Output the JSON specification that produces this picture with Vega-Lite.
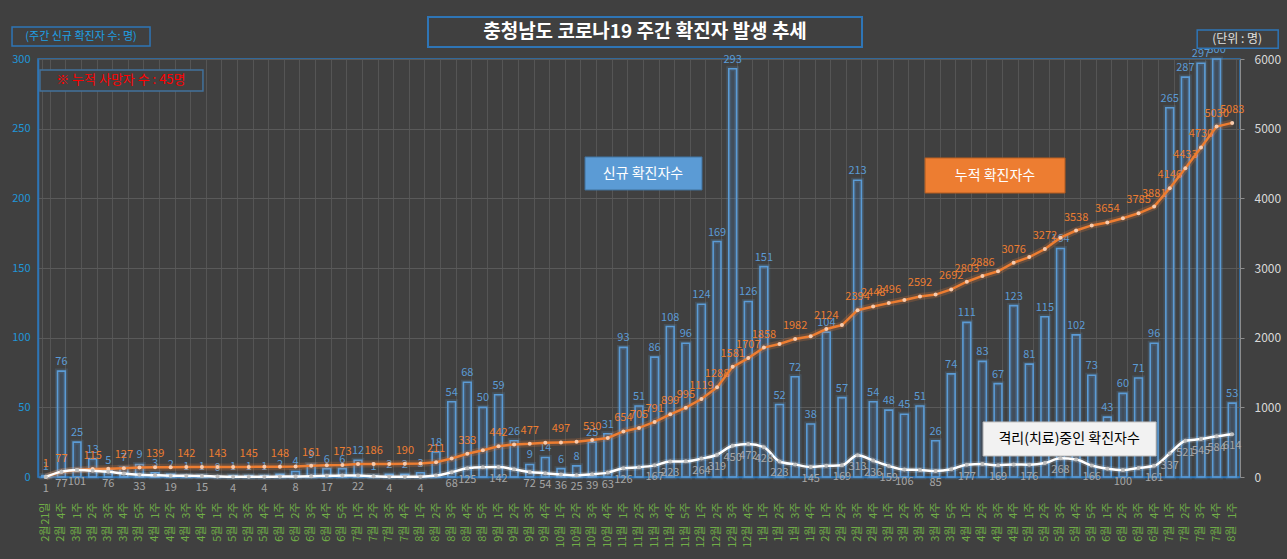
{
"$schema": "https://vega.github.io/schema/vega-lite/v6.json",
"width": 1202, "height": 418,
"autosize": {"type": "none"},
"padding": {"left": 38, "top": 59, "right": 47, "bottom": 82},
"background": "#404040",
"config": {"font": "Noto Sans CJK KR", "view": {"stroke": "#2E75B6", "strokeWidth": 1.5}, "axis": {"labelFont": "Noto Sans CJK KR"}},
"data": {"values": [
{"i":1,"k":"20|2월|21일","new":1,"cum":1,"iso":1},
{"i":2,"k":"20|2월|4주","new":76,"cum":77,"iso":77},
{"i":3,"k":"20|3월|1주","new":25,"cum":102,"iso":101},
{"i":4,"k":"20|3월|2주","new":13,"cum":115,"iso":90},
{"i":5,"k":"20|3월|3주","new":5,"cum":120,"iso":76},
{"i":6,"k":"20|3월|4주","new":7,"cum":127,"iso":50},
{"i":7,"k":"20|3월|5주","new":9,"cum":136,"iso":33},
{"i":8,"k":"20|4월|1주","new":3,"cum":139,"iso":25},
{"i":9,"k":"20|4월|2주","new":2,"cum":141,"iso":19},
{"i":10,"k":"20|4월|3주","new":1,"cum":142,"iso":17},
{"i":11,"k":"20|4월|4주","new":1,"cum":143,"iso":15},
{"i":12,"k":"20|5월|1주","new":0,"cum":143,"iso":8},
{"i":13,"k":"20|5월|2주","new":1,"cum":144,"iso":4},
{"i":14,"k":"20|5월|3주","new":1,"cum":145,"iso":4},
{"i":15,"k":"20|5월|4주","new":1,"cum":146,"iso":4},
{"i":16,"k":"20|6월|1주","new":2,"cum":148,"iso":6},
{"i":17,"k":"20|6월|2주","new":4,"cum":152,"iso":8},
{"i":18,"k":"20|6월|3주","new":9,"cum":161,"iso":12},
{"i":19,"k":"20|6월|4주","new":6,"cum":167,"iso":17},
{"i":20,"k":"20|6월|5주","new":6,"cum":173,"iso":20},
{"i":21,"k":"20|7월|1주","new":12,"cum":185,"iso":22},
{"i":22,"k":"20|7월|2주","new":1,"cum":186,"iso":10},
{"i":23,"k":"20|7월|3주","new":2,"cum":188,"iso":4},
{"i":24,"k":"20|7월|4주","new":2,"cum":190,"iso":4},
{"i":25,"k":"20|8월|1주","new":3,"cum":193,"iso":4},
{"i":26,"k":"20|8월|2주","new":18,"cum":211,"iso":20},
{"i":27,"k":"20|8월|3주","new":54,"cum":265,"iso":68},
{"i":28,"k":"20|8월|4주","new":68,"cum":333,"iso":125},
{"i":29,"k":"20|8월|5주","new":50,"cum":383,"iso":140},
{"i":30,"k":"20|9월|1주","new":59,"cum":442,"iso":142},
{"i":31,"k":"20|9월|2주","new":26,"cum":468,"iso":110},
{"i":32,"k":"20|9월|3주","new":9,"cum":477,"iso":72},
{"i":33,"k":"20|9월|4주","new":14,"cum":491,"iso":54},
{"i":34,"k":"20|10월|1주","new":6,"cum":497,"iso":36},
{"i":35,"k":"20|10월|2주","new":8,"cum":505,"iso":25},
{"i":36,"k":"20|10월|3주","new":25,"cum":530,"iso":39},
{"i":37,"k":"20|10월|4주","new":31,"cum":561,"iso":63},
{"i":38,"k":"20|11월|1주","new":93,"cum":654,"iso":126},
{"i":39,"k":"20|11월|2주","new":51,"cum":705,"iso":140},
{"i":40,"k":"20|11월|3주","new":86,"cum":791,"iso":167},
{"i":41,"k":"20|11월|4주","new":108,"cum":899,"iso":223},
{"i":42,"k":"20|11월|5주","new":96,"cum":995,"iso":225},
{"i":43,"k":"20|12월|1주","new":124,"cum":1119,"iso":264},
{"i":44,"k":"20|12월|2주","new":169,"cum":1288,"iso":319},
{"i":45,"k":"20|12월|3주","new":293,"cum":1581,"iso":450},
{"i":46,"k":"20|12월|4주","new":126,"cum":1707,"iso":472},
{"i":47,"k":"21|1월|1주","new":151,"cum":1858,"iso":428},
{"i":48,"k":"21|1월|2주","new":52,"cum":1910,"iso":223},
{"i":49,"k":"21|1월|3주","new":72,"cum":1982,"iso":180},
{"i":50,"k":"21|1월|4주","new":38,"cum":2020,"iso":145},
{"i":51,"k":"21|2월|1주","new":104,"cum":2124,"iso":160},
{"i":52,"k":"21|2월|2주","new":57,"cum":2181,"iso":169},
{"i":53,"k":"21|2월|3주","new":213,"cum":2394,"iso":313},
{"i":54,"k":"21|2월|4주","new":54,"cum":2448,"iso":236},
{"i":55,"k":"21|3월|1주","new":48,"cum":2496,"iso":159},
{"i":56,"k":"21|3월|2주","new":45,"cum":2541,"iso":106},
{"i":57,"k":"21|3월|3주","new":51,"cum":2592,"iso":100},
{"i":58,"k":"21|3월|4주","new":26,"cum":2618,"iso":85},
{"i":59,"k":"21|3월|5주","new":74,"cum":2692,"iso":110},
{"i":60,"k":"21|4월|1주","new":111,"cum":2803,"iso":177},
{"i":61,"k":"21|4월|2주","new":83,"cum":2886,"iso":185},
{"i":62,"k":"21|4월|3주","new":67,"cum":2953,"iso":169},
{"i":63,"k":"21|4월|4주","new":123,"cum":3076,"iso":180},
{"i":64,"k":"21|5월|1주","new":81,"cum":3157,"iso":176},
{"i":65,"k":"21|5월|2주","new":115,"cum":3272,"iso":200},
{"i":66,"k":"21|5월|3주","new":164,"cum":3436,"iso":268},
{"i":67,"k":"21|5월|4주","new":102,"cum":3538,"iso":250},
{"i":68,"k":"21|5월|5주","new":73,"cum":3611,"iso":166},
{"i":69,"k":"21|6월|1주","new":43,"cum":3654,"iso":120},
{"i":70,"k":"21|6월|2주","new":60,"cum":3714,"iso":100},
{"i":71,"k":"21|6월|3주","new":71,"cum":3785,"iso":130},
{"i":72,"k":"21|6월|4주","new":96,"cum":3881,"iso":161},
{"i":73,"k":"21|7월|1주","new":265,"cum":4146,"iso":337},
{"i":74,"k":"21|7월|2주","new":287,"cum":4433,"iso":521},
{"i":75,"k":"21|7월|3주","new":297,"cum":4730,"iso":545},
{"i":76,"k":"21|7월|4주","new":300,"cum":5030,"iso":584},
{"i":77,"k":"21|8월|1주","new":53,"cum":5083,"iso":614}
]},
"encoding": {"x": {"field": "k", "type": "nominal", "sort": null, "axis": null,
  "scale": {"paddingInner": 0.5, "paddingOuter": 0.25, "domain": ["20|2월|21일","20|2월|4주","20|3월|1주","20|3월|2주","20|3월|3주","20|3월|4주","20|3월|5주","20|4월|1주","20|4월|2주","20|4월|3주","20|4월|4주","20|5월|1주","20|5월|2주","20|5월|3주","20|5월|4주","20|6월|1주","20|6월|2주","20|6월|3주","20|6월|4주","20|6월|5주","20|7월|1주","20|7월|2주","20|7월|3주","20|7월|4주","20|8월|1주","20|8월|2주","20|8월|3주","20|8월|4주","20|8월|5주","20|9월|1주","20|9월|2주","20|9월|3주","20|9월|4주","20|10월|1주","20|10월|2주","20|10월|3주","20|10월|4주","20|11월|1주","20|11월|2주","20|11월|3주","20|11월|4주","20|11월|5주","20|12월|1주","20|12월|2주","20|12월|3주","20|12월|4주","21|1월|1주","21|1월|2주","21|1월|3주","21|1월|4주","21|2월|1주","21|2월|2주","21|2월|3주","21|2월|4주","21|3월|1주","21|3월|2주","21|3월|3주","21|3월|4주","21|3월|5주","21|4월|1주","21|4월|2주","21|4월|3주","21|4월|4주","21|5월|1주","21|5월|2주","21|5월|3주","21|5월|4주","21|5월|5주","21|6월|1주","21|6월|2주","21|6월|3주","21|6월|4주","21|7월|1주","21|7월|2주","21|7월|3주","21|7월|4주","21|8월|1주"]}}},
"layer": [
{"mark": {"type": "bar", "fill": "transparent", "stroke": "#5B9BD5", "strokeWidth": 5, "strokeOpacity": 0.18},
 "encoding": {
  "x": {"field": "k", "type": "nominal", "sort": null,
   "scale": {"paddingInner": 0.5, "paddingOuter": 0.25, "domain": ["20|2월|21일","20|2월|4주","20|3월|1주","20|3월|2주","20|3월|3주","20|3월|4주","20|3월|5주","20|4월|1주","20|4월|2주","20|4월|3주","20|4월|4주","20|5월|1주","20|5월|2주","20|5월|3주","20|5월|4주","20|6월|1주","20|6월|2주","20|6월|3주","20|6월|4주","20|6월|5주","20|7월|1주","20|7월|2주","20|7월|3주","20|7월|4주","20|8월|1주","20|8월|2주","20|8월|3주","20|8월|4주","20|8월|5주","20|9월|1주","20|9월|2주","20|9월|3주","20|9월|4주","20|10월|1주","20|10월|2주","20|10월|3주","20|10월|4주","20|11월|1주","20|11월|2주","20|11월|3주","20|11월|4주","20|11월|5주","20|12월|1주","20|12월|2주","20|12월|3주","20|12월|4주","21|1월|1주","21|1월|2주","21|1월|3주","21|1월|4주","21|2월|1주","21|2월|2주","21|2월|3주","21|2월|4주","21|3월|1주","21|3월|2주","21|3월|3주","21|3월|4주","21|3월|5주","21|4월|1주","21|4월|2주","21|4월|3주","21|4월|4주","21|5월|1주","21|5월|2주","21|5월|3주","21|5월|4주","21|5월|5주","21|6월|1주","21|6월|2주","21|6월|3주","21|6월|4주","21|7월|1주","21|7월|2주","21|7월|3주","21|7월|4주","21|8월|1주"]},
   "axis": {"orient": "bottom", "title": null, "labelExpr": "split(datum.value, '|')[1]", "labelAngle": 270, "labelAlign": "right", "labelBaseline": "middle", "labelPadding": 48, "labelColor": "#70AD47", "labelFontSize": 11, "labelOverlap": false, "ticks": false, "domain": false, "grid": false}},
  "y": {"field": "new", "type": "quantitative", "scale": {"domain": [0, 300]}, "axis": null}}},
{"mark": {"type": "bar", "fill": "#4A7DB5", "fillOpacity": 0.22, "stroke": "#5B9BD5", "strokeWidth": 1.6},
 "encoding": {
  "x": {"field": "k", "type": "nominal", "sort": null,
   "scale": {"paddingInner": 0.5, "paddingOuter": 0.25, "domain": ["20|2월|21일","20|2월|4주","20|3월|1주","20|3월|2주","20|3월|3주","20|3월|4주","20|3월|5주","20|4월|1주","20|4월|2주","20|4월|3주","20|4월|4주","20|5월|1주","20|5월|2주","20|5월|3주","20|5월|4주","20|6월|1주","20|6월|2주","20|6월|3주","20|6월|4주","20|6월|5주","20|7월|1주","20|7월|2주","20|7월|3주","20|7월|4주","20|8월|1주","20|8월|2주","20|8월|3주","20|8월|4주","20|8월|5주","20|9월|1주","20|9월|2주","20|9월|3주","20|9월|4주","20|10월|1주","20|10월|2주","20|10월|3주","20|10월|4주","20|11월|1주","20|11월|2주","20|11월|3주","20|11월|4주","20|11월|5주","20|12월|1주","20|12월|2주","20|12월|3주","20|12월|4주","21|1월|1주","21|1월|2주","21|1월|3주","21|1월|4주","21|2월|1주","21|2월|2주","21|2월|3주","21|2월|4주","21|3월|1주","21|3월|2주","21|3월|3주","21|3월|4주","21|3월|5주","21|4월|1주","21|4월|2주","21|4월|3주","21|4월|4주","21|5월|1주","21|5월|2주","21|5월|3주","21|5월|4주","21|5월|5주","21|6월|1주","21|6월|2주","21|6월|3주","21|6월|4주","21|7월|1주","21|7월|2주","21|7월|3주","21|7월|4주","21|8월|1주"]},
   "axis": {"orient": "bottom", "title": null, "labelExpr": "split(datum.value, '|')[2]", "labelAngle": 270, "labelAlign": "right", "labelBaseline": "middle", "labelPadding": 25, "labelColor": "#70AD47", "labelFontSize": 11, "labelOverlap": false, "ticks": false, "domain": true, "domainColor": "#2E75B6", "domainWidth": 1.5, "grid": true, "tickBand": "extent", "gridColor": "#555555", "gridWidth": 1}},
  "y": {"field": "new", "type": "quantitative", "scale": {"domain": [0, 300]},
   "axis": {"orient": "left", "title": null, "values": [0, 50, 100, 150, 200, 250, 300], "labelColor": "#2196D8", "labelFontSize": 11, "labelPadding": 8, "ticks": false, "domain": true, "domainColor": "#2E75B6", "domainWidth": 1.5, "grid": true, "gridColor": "#5A5A5A", "gridWidth": 1}}}},
{"mark": {"type": "text", "color": "#5B9BD5", "fontSize": 11, "baseline": "bottom", "dy": -4},
 "encoding": {"y": {"field": "new", "type": "quantitative", "scale": {"domain": [0, 300]}, "axis": null}, "text": {"field": "new", "type": "quantitative"}}},
{"mark": {"type": "line", "color": "#ED7D31", "strokeWidth": 7, "opacity": 0.22},
 "encoding": {"y": {"field": "cum", "type": "quantitative", "scale": {"domain": [0, 6000]}, "axis": null}}},
{"mark": {"type": "line", "color": "#ED7D31", "strokeWidth": 2.5},
 "encoding": {"y": {"field": "cum", "type": "quantitative", "scale": {"domain": [0, 6000]},
  "axis": {"orient": "right", "title": null, "values": [0, 1000, 2000, 3000, 4000, 5000, 6000], "format": "d", "labelColor": "#D9D9D9", "labelFontSize": 12, "labelPadding": 10, "ticks": true, "tickSize": 4, "tickColor": "#8C8C8C", "domain": true, "domainColor": "#8C8C8C", "grid": false}}}},
{"mark": {"type": "circle", "color": "#F8CBAD", "size": 16, "opacity": 1},
 "encoding": {"y": {"field": "cum", "type": "quantitative", "scale": {"domain": [0, 6000]}, "axis": null}}},
{"transform": [{"filter": "indexof([1,2,4,6,8,10,12,14,16,18,20,22,24,26,28,30,32,34,36,38,39,40,41,42,43,44,45,46,47,49,51,53,54,55,57,59,60,61,63,65,67,69,71,72,73,74,75,76,77], datum.i) >= 0"}],
 "mark": {"type": "text", "color": "#ED7D31", "fontSize": 11, "baseline": "bottom", "dy": -8},
 "encoding": {"y": {"field": "cum", "type": "quantitative", "scale": {"domain": [0, 6000]}, "axis": null}, "text": {"field": "cum", "type": "quantitative"}}},
{"mark": {"type": "line", "color": "#FFFFFF", "strokeWidth": 6, "opacity": 0.15, "interpolate": "monotone"},
 "encoding": {"y": {"field": "iso", "type": "quantitative", "scale": {"domain": [0, 6000]}, "axis": null}}},
{"mark": {"type": "line", "color": "#FFFFFF", "strokeWidth": 2.5, "interpolate": "monotone"},
 "encoding": {"y": {"field": "iso", "type": "quantitative", "scale": {"domain": [0, 6000]}, "axis": null}}},
{"mark": {"type": "circle", "color": "#BFBFBF", "size": 16, "opacity": 1},
 "encoding": {"y": {"field": "iso", "type": "quantitative", "scale": {"domain": [0, 6000]}, "axis": null}}},
{"transform": [{"filter": "indexof([1,2,3,5,7,9,11,13,15,17,19,21,23,25,27,28,30,32,33,34,35,36,37,38,40,41,43,44,45,46,47,48,50,52,53,54,55,56,58,60,62,64,66,68,70,72,73,74,75,76,77], datum.i) >= 0"}],
 "mark": {"type": "text", "color": "#A6A6A6", "fontSize": 11, "baseline": "top", "dy": 6},
 "encoding": {"y": {"field": "iso", "type": "quantitative", "scale": {"domain": [0, 6000]}, "axis": null}, "text": {"field": "iso", "type": "quantitative"}}},
{"transform": [{"filter": "datum.i == 39"}],
 "mark": {"type": "bar", "width": 117, "xOffset": 4.5, "fill": "#5B9BD5", "stroke": "#41719C", "strokeWidth": 1},
 "encoding": {"y": {"datum": 229.7, "type": "quantitative", "scale": {"domain": [0, 300]}, "axis": null}, "y2": {"datum": 206}}},
{"transform": [{"filter": "datum.i == 39"}],
 "mark": {"type": "text", "text": "신규 확진자수", "color": "#FFFFFF", "fontSize": 14, "xOffset": 4, "baseline": "middle"},
 "encoding": {"y": {"datum": 217.5, "type": "quantitative", "scale": {"domain": [0, 300]}, "axis": null}}},
{"transform": [{"filter": "datum.i == 62"}],
 "mark": {"type": "bar", "width": 140, "xOffset": -3, "fill": "#ED7D31", "stroke": "#AE5A21", "strokeWidth": 1},
 "encoding": {"y": {"datum": 229, "type": "quantitative", "scale": {"domain": [0, 300]}, "axis": null}, "y2": {"datum": 203.8}}},
{"transform": [{"filter": "datum.i == 62"}],
 "mark": {"type": "text", "text": "누적 확진자수", "color": "#FFFFFF", "fontSize": 14, "xOffset": -3, "baseline": "middle"},
 "encoding": {"y": {"datum": 216, "type": "quantitative", "scale": {"domain": [0, 300]}, "axis": null}}},
{"transform": [{"filter": "datum.i == 67"}],
 "mark": {"type": "bar", "width": 173, "xOffset": -6.5, "fill": "#F2F2F2", "stroke": "#BFBFBF", "strokeWidth": 1},
 "encoding": {"y": {"datum": 39.5, "type": "quantitative", "scale": {"domain": [0, 300]}, "axis": null}, "y2": {"datum": 15.1}}},
{"transform": [{"filter": "datum.i == 67"}],
 "mark": {"type": "text", "text": "격리(치료)중인 확진자수", "color": "#000000", "fontSize": 14, "xOffset": -7, "baseline": "middle"},
 "encoding": {"y": {"datum": 27.3, "type": "quantitative", "scale": {"domain": [0, 300]}, "axis": null}}},
{"transform": [{"filter": "datum.i == 6"}],
 "mark": {"type": "bar", "width": 163, "xOffset": -2.4, "fill": "#404040", "stroke": "#41719C", "strokeWidth": 1.5},
 "encoding": {"y": {"datum": 292.1, "type": "quantitative", "scale": {"domain": [0, 300]}, "axis": null}, "y2": {"datum": 277}}},
{"transform": [{"filter": "datum.i == 6"}],
 "mark": {"type": "text", "text": "※ 누적 사망자 수 : 45명", "color": "#FF0000", "fontSize": 13, "xOffset": -3, "baseline": "middle"},
 "encoding": {"y": {"datum": 284.6, "type": "quantitative", "scale": {"domain": [0, 300]}, "axis": null}}},
{"transform": [{"filter": "datum.i == 39"}],
 "mark": {"type": "bar", "width": 434, "xOffset": 6, "fill": "#404040", "stroke": "#2E75B6", "strokeWidth": 2},
 "encoding": {"y": {"datum": 330.1, "type": "quantitative", "scale": {"domain": [0, 300]}, "axis": null}, "y2": {"datum": 308.6}}},
{"transform": [{"filter": "datum.i == 39"}],
 "mark": {"type": "text", "text": "충청남도 코로나19 주간 확진자 발생 추세", "color": "#FFFFFF", "fontSize": 19, "fontWeight": "bold", "xOffset": 6, "baseline": "middle"},
 "encoding": {"y": {"datum": 319.4, "type": "quantitative", "scale": {"domain": [0, 300]}, "axis": null}}},
{"transform": [{"filter": "datum.i == 3"}],
 "mark": {"type": "bar", "width": 138, "xOffset": 4, "fill": "#404040", "stroke": "#2E75B6", "strokeWidth": 1.5},
 "encoding": {"y": {"datum": 323, "type": "quantitative", "scale": {"domain": [0, 300]}, "axis": null}, "y2": {"datum": 309.3}}},
{"transform": [{"filter": "datum.i == 3"}],
 "mark": {"type": "text", "text": "(주간 신규 확진자 수: 명)", "color": "#1EA0E6", "fontSize": 11, "xOffset": 4, "baseline": "middle"},
 "encoding": {"y": {"datum": 316.1, "type": "quantitative", "scale": {"domain": [0, 300]}, "axis": null}}},
{"transform": [{"filter": "datum.i == 77"}],
 "mark": {"type": "bar", "width": 81, "xOffset": 5.5, "fill": "#404040", "stroke": "#2E75B6", "strokeWidth": 1.5},
 "encoding": {"y": {"datum": 320.8, "type": "quantitative", "scale": {"domain": [0, 300]}, "axis": null}, "y2": {"datum": 307.8}}},
{"transform": [{"filter": "datum.i == 77"}],
 "mark": {"type": "text", "text": "(단위 : 명)", "color": "#E0E0E0", "fontSize": 12, "xOffset": 5, "baseline": "middle"},
 "encoding": {"y": {"datum": 314.4, "type": "quantitative", "scale": {"domain": [0, 300]}, "axis": null}}}
],
"resolve": {"scale": {"y": "independent"}, "axis": {"x": "independent", "y": "independent"}}
}
